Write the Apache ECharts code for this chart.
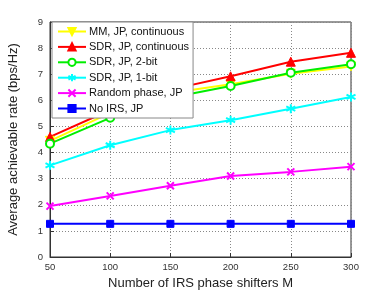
<!DOCTYPE html>
<html>
<head>
<meta charset="utf-8">
<script src="https://cdn.jsdelivr.net/npm/echarts@6/dist/echarts.min.js"></script>
<style>html,body{margin:0;padding:0;background:#fff}#c{width:388px;height:294px}</style>
</head>
<body>
<div id="c"></div>
<script>
const xValues = [50, 100, 150, 200, 250, 300];
const mmCont = [4.45, 5.52, 6.28, 6.62, 7.02, 7.30];
const sdrCont = [4.60, 5.63, 6.41, 6.92, 7.48, 7.82];
const sdr2bit = [4.34, 5.33, 6.10, 6.55, 7.06, 7.38];
const sdr1bit = [3.51, 4.28, 4.86, 5.24, 5.68, 6.13];
const randomPhase = [1.95, 2.34, 2.73, 3.10, 3.26, 3.46];
const noIRS = [1.27, 1.27, 1.27, 1.27, 1.27, 1.27];
const seriesNames = ['MM, JP, continuous', 'SDR, JP, continuous', 'SDR, JP, 2-bit', 'SDR, JP, 1-bit', 'Random phase, JP', 'No IRS, JP'];

const font = 'Liberation Sans, Arial, sans-serif';
const pair = arr => xValues.map((x, i) => [x, arr[i]]);
const asterisk = 'path://M0,-1L0,1M-0.866,-0.5L0.866,0.5M-0.866,0.5L0.866,-0.5';
const cross = 'path://M-1,-1L1,1M-1,1L1,-1';

function mk(name, data, color, symbol, size, extra) {
  return Object.assign({
    name: name, type: 'line', data: pair(data),
    symbol: symbol, symbolSize: size,
    lineStyle: { color: color, width: 2 },
    itemStyle: { color: color, borderColor: color, borderWidth: 1 },
    emphasis: { disabled: true },
    animation: false
  }, extra || {});
}

const chart = echarts.init(document.getElementById('c'), null, { renderer: 'canvas' });
chart.setOption({
  animation: false,
  textStyle: { fontFamily: font },
  grid: { left: 50, right: 37, top: 22, bottom: 37, show: true, borderColor: '#333', borderWidth: 1, containLabel: false, outerBoundsMode: 'none' },
  legend: {
    orient: 'vertical', left: 52, top: 22,
    backgroundColor: '#fff', borderColor: '#888', borderWidth: 1,
    padding: [4, 4, 4, 5],
    itemWidth: 28, itemHeight: 9, itemGap: 4.4,
    textStyle: { fontSize: 11, color: '#111', fontFamily: font, padding: [0, 0, 0, -2] },
    data: seriesNames
  },
  xAxis: {
    type: 'value', min: 50, max: 300, interval: 50,
    name: 'Number of IRS phase shifters M', nameLocation: 'middle', nameGap: 20,
    nameTextStyle: { fontSize: 13, color: '#222', fontFamily: font },
    axisLine: { show: true, lineStyle: { color: '#333' } },
    axisTick: { show: true, inside: true, length: 4, lineStyle: { color: '#333' } },
    axisLabel: { fontSize: 9.5, color: '#333', margin: 5 },
    splitLine: { show: true, lineStyle: { color: '#888', type: [1, 2], width: 1 } }
  },
  yAxis: {
    type: 'value', min: 0, max: 9, interval: 1,
    name: 'Average achievable rate (bps/Hz)', nameLocation: 'middle', nameGap: 30,
    nameTextStyle: { fontSize: 13, color: '#222', fontFamily: font },
    axisLine: { show: true, lineStyle: { color: '#333' } },
    axisTick: { show: true, inside: true, length: 4, lineStyle: { color: '#333' } },
    axisLabel: { fontSize: 9.5, color: '#333', margin: 7 },
    splitLine: { show: true, lineStyle: { color: '#888', type: [1, 2], width: 1 } }
  },
  series: [
    mk(seriesNames[0], mmCont, '#ffff00', 'triangle', 9, { symbolRotate: 180 }),
    mk(seriesNames[1], sdrCont, '#ff0000', 'triangle', 9),
    mk(seriesNames[2], sdr2bit, '#00ee00', 'emptyCircle', 8, { itemStyle: { color: '#00ee00', borderColor: '#00ee00', borderWidth: 2 } }),
    mk(seriesNames[3], sdr1bit, '#00ffff', asterisk, 9, { itemStyle: { color: '#00ffff', borderColor: '#00ffff', borderWidth: 2 } }),
    mk(seriesNames[4], randomPhase, '#ff00ff', cross, 7, { itemStyle: { color: '#ff00ff', borderColor: '#ff00ff', borderWidth: 2 } }),
    mk(seriesNames[5], noIRS, '#0000ff', 'rect', 7)
  ]
});
</script>
</body>
</html>
